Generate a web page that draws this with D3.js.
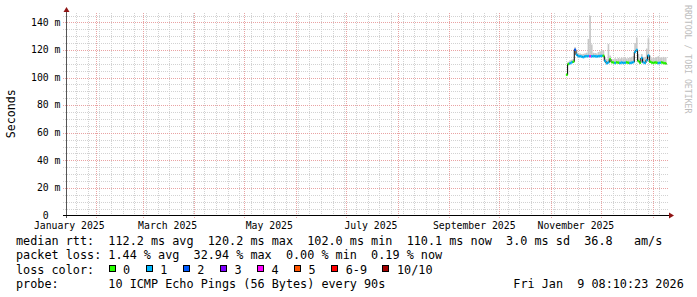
<!DOCTYPE html>
<html><head><meta charset="utf-8">
<script src="https://cdn.jsdelivr.net/npm/d3@7"></script>
<style>
html,body{margin:0;padding:0;background:#fff;}
svg{display:block;}
text{font-family:"DejaVu Sans Mono",monospace;}
</style>
</head><body><div id="chart"></div>
<script>
// ---------- data ----------
const timeStart = "2025-01-14T08:10:23Z";
const timeEnd   = "2026-01-09T08:10:23Z";
const dataStart = "2025-11-10T00:00:00Z";   // first daily sample
const median = [102.0,109.8,110.3,111.0,111.5,120.2,116.5,115.6,115.4,115.2,
                114.8,115.4,115.5,115.6,115.5,115.4,115.6,115.5,115.3,115.5,
                115.6,115.7,115.8,112.0,110.4,111.0,113.2,111.2,110.9,110.6,
                111.0,110.8,110.5,110.9,110.6,110.8,111.0,110.7,110.5,110.8,
                111.2,118.5,120.0,112.0,110.8,114.2,111.0,110.6,112.5,116.0,
                111.4,110.9,110.6,111.0,110.8,110.5,110.7,111.0,110.6,110.4,110.1];
const smokeMax = [103.0,111.5,112.5,113.0,113.5,122.0,119.0,117.5,117.5,117.0,
                  117.2,117.5,118.0,128.0,144.8,124.0,118.0,117.8,117.5,118.5,
                  119.0,120.0,119.5,114.5,113.5,124.3,116.0,113.5,113.2,114.0,
                  113.5,114.2,113.8,114.5,114.0,114.6,113.8,114.2,114.6,115.0,
                  115.5,125.0,129.0,117.0,114.0,117.0,114.2,115.0,121.0,128.5,
                  116.0,114.0,114.6,114.2,114.8,115.5,114.6,114.4,115.0,114.6,114.8];
const lossCount = [0,0,1,1,0,2,1,1,1,1,
                   1,1,1,1,4,1,1,1,1,1,
                   1,1,0,1,1,1,0,0,0,1,
                   0,0,1,1,1,1,0,0,1,1,
                   1,1,1,0,0,1,1,1,1,1,
                   0,0,0,0,0,1,1,0,0,0,0];
const lossLegend = ["0","1","2","3","4","5","6-9","10/10"];
const lossColors = ["#26ff00","#00b8ff","#0059ff","#7e00ff","#ff00ff","#ff5500","#ff0000","#a00000"];
const yTickValues = [0,20,40,60,80,100,120,140];
const yTickLabels = ["0","20 m","40 m","60 m","80 m","100 m","120 m","140 m"];
const monthLabels = ["January 2025","March 2025","May 2025","July 2025","September 2025","November 2025"];
const monthLabelDates = ["2025-01-01","2025-03-01","2025-05-01","2025-07-01","2025-09-01","2025-11-01"];
const statRtt  = "median rtt:  112.2 ms avg  120.2 ms max  102.0 ms min  110.1 ms now  3.0 ms sd  36.8   am/s";
const statLoss = "packet loss: 1.44 % avg  32.94 % max  0.00 % min  0.19 % now";
const legendTitle = "loss color:";
const probeText = "probe:       10 ICMP Echo Pings (56 Bytes) every 90s";
const stampText = "Fri Jan  9 08:10:23 2026";
const yTitle = "Seconds";
const watermark = "RRDTOOL / TOBI OETIKER";

// ---------- layout ----------
const W = 697, H = 297;
const X0 = 66.5, X1 = 666.5, Y0 = 215.5, Y1 = 15.5;
const svg = d3.select("#chart").append("svg").attr("width", W).attr("height", H);
svg.append("rect").attr("width", W).attr("height", H).attr("fill", "#fff");

const x = d3.scaleUtc().domain([new Date(timeStart), new Date(timeEnd)]).range([X0, X1]);
const y = d3.scaleLinear().domain([0, 145]).range([Y0, Y1]);

const gGrid = svg.append("g").attr("shape-rendering", "crispEdges");
const minorCol = "#d2d2d2", majorCol = "#e9a3a3";
// minor vertical (weekly)
d3.utcMonday.range(x.domain()[0], x.domain()[1]).forEach(t => {
  const px = Math.round(x(t)) + 0.5;
  gGrid.append("line").attr("x1", px).attr("x2", px).attr("y1", 13).attr("y2", Y0)
    .attr("stroke", minorCol).attr("stroke-dasharray", "1,1");
});
// minor horizontal (5 m)
d3.range(5, 146, 5).filter(v => v % 20 !== 0).forEach(v => {
  const py = Math.round(y(v)) + 0.5;
  gGrid.append("line").attr("x1", 63).attr("x2", 669).attr("y1", py).attr("y2", py)
    .attr("stroke", minorCol).attr("stroke-dasharray", "1,1");
});
// major vertical (months)
d3.utcMonth.range(x.domain()[0], x.domain()[1]).forEach(t => {
  const px = Math.round(x(t)) + 0.5;
  gGrid.append("line").attr("x1", px).attr("x2", px).attr("y1", 13).attr("y2", 218)
    .attr("stroke", majorCol).attr("stroke-dasharray", "1,1");
});
// major horizontal
yTickValues.filter(v => v > 0).forEach(v => {
  const py = Math.round(y(v)) + 0.5;
  gGrid.append("line").attr("x1", 63).attr("x2", 669).attr("y1", py).attr("y2", py)
    .attr("stroke", majorCol).attr("stroke-dasharray", "1,1");
});

// ---------- data marks ----------
const t0 = new Date(dataStart);
const dates = median.map((_, i) => d3.utcDay.offset(t0, i));
const endOf = i => (i + 1 < dates.length ? dates[i + 1] : new Date(timeEnd));
const lossIdx = c => (c <= 5 ? c : (c < 10 ? 6 : 7));

// smoke
const gData = svg.append("g");
median.forEach((m, i) => {
  const xa = x(dates[i]), xb = x(endOf(i));
  gData.append("rect").attr("x", xa).attr("width", xb - xa)
    .attr("y", y(smokeMax[i])).attr("height", y(m) - y(smokeMax[i]) + 0.5)
    .attr("fill", "#c8c8c8");
});
// black median step line
const pts = dates.map((d, i) => [d, median[i]]);
pts.push([new Date(timeEnd), median[median.length - 1]]);
gData.append("path").datum(pts)
  .attr("d", d3.line().x(d => x(d[0])).y(d => y(d[1])).curve(d3.curveStepAfter))
  .attr("fill", "none").attr("stroke", "#000").attr("stroke-width", 1);
// loss colored segments
median.forEach((m, i) => {
  gData.append("line").attr("x1", x(dates[i])).attr("x2", x(endOf(i)))
    .attr("y1", y(m)).attr("y2", y(m))
    .attr("stroke", lossColors[lossIdx(lossCount[i])]).attr("stroke-width", 2.5);
});

// ---------- axes ----------
const gAx = svg.append("g").attr("shape-rendering", "crispEdges");
gAx.append("line").attr("x1", X0).attr("x2", X0).attr("y1", 12).attr("y2", 218)
  .attr("stroke", "#555").attr("stroke-width", 1);
gAx.append("line").attr("x1", 63).attr("x2", 670).attr("y1", Y0).attr("y2", Y0)
  .attr("stroke", "#000").attr("stroke-width", 1.3);
// arrows
svg.append("path").attr("d", `M${X0 - 3},${12} L${X0 + 3},${12} L${X0},${7} Z`).attr("fill", "#8f1414");
svg.append("path").attr("d", `M${669},${Y0 - 3} L${669},${Y0 + 3} L${674},${Y0} Z`).attr("fill", "#8f1414");

// y tick labels
yTickValues.forEach((v, i) => {
  const lab = yTickLabels[i];
  svg.append("text").attr("x", lab.indexOf(" ") < 0 ? 60.5 - 11.8 : 60.5)
    .attr("y", y(v) + 3.2).attr("text-anchor", "end")
    .attr("font-size", "9.8px").attr("fill", "#000").text(lab);
});
// x labels: centred half a month after the month start
monthLabels.forEach((lab, i) => {
  const t = d3.utcDay.offset(new Date(monthLabelDates[i] + "T00:00:00Z"), 15);
  svg.append("text").attr("x", x(t)).attr("y", 228.5).attr("text-anchor", "middle")
    .attr("font-size", "9.8px").attr("fill", "#000").text(lab);
});

// y title
svg.append("text").attr("transform", "translate(15,113.7) rotate(-90)")
  .attr("text-anchor", "middle").attr("font-size", "11.6px").attr("fill", "#000").text(yTitle);
// watermark
svg.append("text").attr("transform", "translate(684.5,5) rotate(90)")
  .attr("text-anchor", "start").attr("font-size", "8.2px").attr("fill", "#bdbdbd").text(watermark);

// ---------- legend / stats ----------
const fs = "11.8px", cw = 7.1;
const txt = (s, tx, ty) => svg.append("text").attr("x", tx).attr("y", ty)
  .attr("font-size", fs).attr("fill", "#000").style("white-space", "pre").text(s);
txt(statRtt, 16, 245);
txt(statLoss, 16, 259.3);
txt(legendTitle, 16, 273.5);
txt(probeText, 16, 287.7);
txt(stampText, 513.3, 287.7);

let lx = 108.5;
lossLegend.forEach((lab, i) => {
  svg.append("rect").attr("x", Math.round(lx) + 0.5).attr("y", 265.5).attr("width", 6).attr("height", 6)
    .attr("fill", lossColors[i]).attr("stroke", "#000").attr("stroke-width", 1)
    .attr("shape-rendering", "crispEdges");
  const tx = lx + 14.6;
  txt(lab, tx, 273.5);
  lx = tx + lab.length * cw + 15.4;
});
</script>
</body></html>
